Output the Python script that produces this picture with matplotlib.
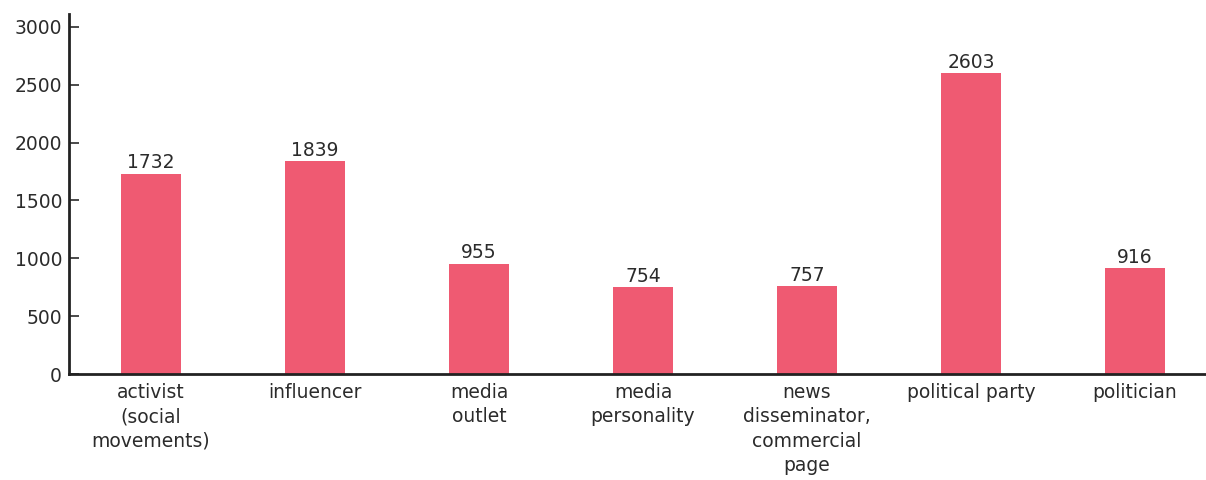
import matplotlib.pyplot as plt

categories = ["activist\n(social\nmovements)", "influencer", "media\noutlet",
              "media\npersonality", "news\ndisseminator,\ncommercial\npage",
              "political party", "politician"]
counts = [1732, 1839, 955, 754, 757, 2603, 916]
yticks = [0, 500, 1000, 1500, 2000, 2500, 3000]

plt.rcParams['font.family'] = ['DejaVu Sans']
text_color = "#2b2b2b"
fs = 13.5

fig = plt.figure(figsize=(12.06, 4.8), dpi=100)
ax = fig.add_axes([69 / 1206, 106 / 480, 1148 / 1206, 360 / 480])

x = range(len(categories))
bars = ax.bar(x, counts, width=0.36, color="#ef5a72")
for xi, v in zip(x, counts):
    ax.text(xi, v + 10, str(v), ha="center", va="bottom", fontsize=fs, color=text_color)

ax.set_xlim(-0.5, len(categories) - 0.5)
ax.set_ylim(0, 3112)
ax.set_yticks(yticks)
ax.set_xticks(list(x))
ax.set_xticklabels(categories, fontsize=fs, color=text_color, linespacing=1.36, va="top")
ax.tick_params(axis="y", direction="in", length=7, width=1.2, labelsize=fs,
               labelcolor=text_color, color=text_color, pad=5)
ax.tick_params(axis="x", length=0, pad=6.5)

for side in ["top", "right"]:
    ax.spines[side].set_visible(False)
for side in ["left", "bottom"]:
    ax.spines[side].set_linewidth(2)
    ax.spines[side].set_color("#222222")

fig.savefig("out.png", dpi=100)
